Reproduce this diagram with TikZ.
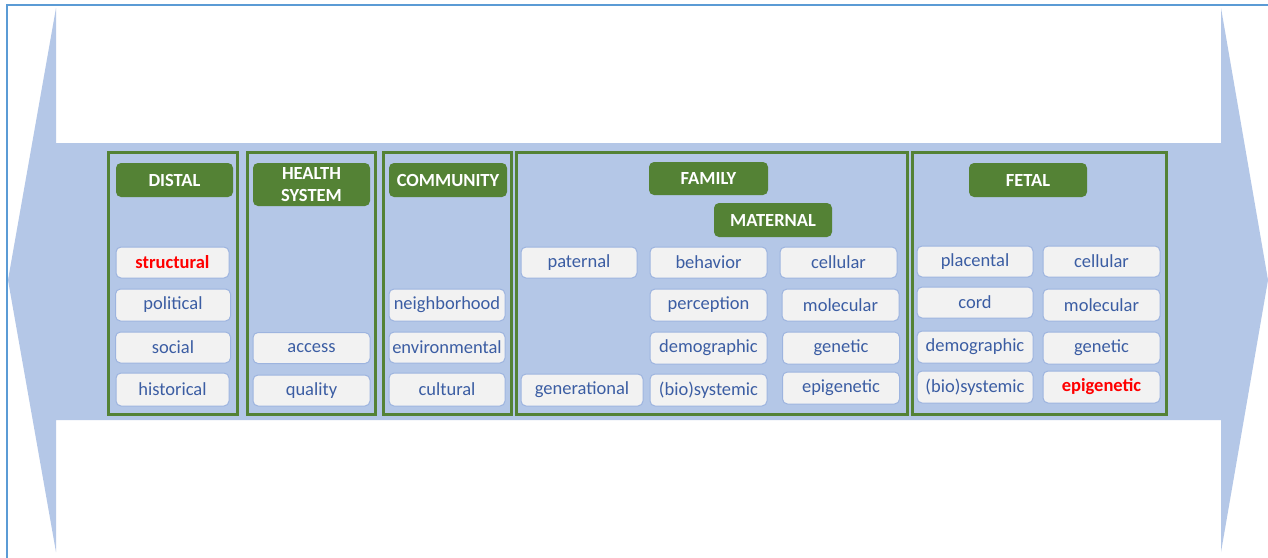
\documentclass[tikz,border=0pt]{standalone}
\usepackage{fontspec}
\setmainfont{Carlito}
\definecolor{frameblue}{HTML}{5B9BD5}
\definecolor{arrowblue}{HTML}{B4C7E7}
\definecolor{panelgreen}{HTML}{548235}
\definecolor{itemfill}{HTML}{F2F2F2}
\definecolor{itemline}{HTML}{9DB4DF}
\definecolor{itemtext}{HTML}{3B5DA3}
\definecolor{hot}{HTML}{FF0000}
\tikzset{
  panel/.style={draw=panelgreen, line width=3pt, inner sep=0pt, minimum height=262pt},
  hdr/.style={fill=panelgreen, rounded corners=5pt, inner sep=0pt, text=white,
    font=\fontsize{18.5}{22.5}\selectfont\bfseries, align=center,
    minimum width=118pt, minimum height=34pt},
  item/.style={fill=itemfill, draw=itemline, line width=1pt, rounded corners=5pt, inner sep=0pt,
    text=itemtext, font=\fontsize{18.5}{22}\selectfont, minimum width=117pt, minimum height=31pt},
  hotitem/.style={item, text=hot, font=\fontsize{18.5}{22}\selectfont\bfseries}
}
\begin{document}
\begin{tikzpicture}[x=1pt,y=-1pt]
\useasboundingbox (0,0) rectangle (1268,557);
\clip (0,0) rectangle (1268,557);
\fill[white] (0,0) rectangle (1268,557);
\draw[frameblue, line width=2pt] (7,5) rectangle (1290,580);
% double arrow
\fill[arrowblue] (8,280) -- (56,8) -- (56,143) -- (1221,143) -- (1221,8) -- (1268,280)
  -- (1221,552) -- (1221,420) -- (56,420) -- (56,552) -- cycle;
% panels
\node[panel, minimum width=129pt] (pdistal) at (172.5,283) {};
\node[panel, minimum width=128pt] (phealth) at (311,283) {};
\node[panel, minimum width=128pt] (pcomm) at (447,283) {};
\node[panel, minimum width=391pt] (pfamily) at (711.5,283) {};
\node[panel, minimum width=254pt] (pfetal) at (1039,283) {};
% headers
\node[hdr, minimum width=117pt] (hdistal) at (174.5,180) {DISTAL};
\node[hdr, minimum width=117pt, minimum height=43pt] (hhealth) at (311.5,184.5) {HEALTH\\SYSTEM};
\node[hdr] (hcomm) at (448,180) {COMMUNITY};
\node[hdr, minimum width=119pt, minimum height=33pt] (hfamily) at (708.5,178.5) {FAMILY};
\node[hdr] (hmaternal) at (773,220) {MATERNAL};
\node[hdr] (hfetal) at (1028,180) {FETAL};
% distal
\node[hotitem, minimum width=113pt] (structural) at (172.5,262.5) {structural};
\node[item, minimum width=115pt, minimum height=32pt] (political) at (173,305) {political};
\node[item, minimum width=115pt] (social) at (173,347.5) {social};
\node[item, minimum width=113pt, minimum height=33pt] (historical) at (172.5,389.5) {historical};
% health system
\node[item] (access) at (311.5,348) {access};
\node[item] (quality) at (311.5,390.5) {quality};
% community
\node[item, minimum width=116pt, minimum height=32pt] (neigh) at (447,305) {neighborhood};
\node[item, minimum width=116pt] (environ) at (447,347.5) {environmental};
\node[item, minimum width=116pt, minimum height=33pt] (cultural) at (447,389.5) {cultural};
% family
\node[item, minimum width=116pt] (paternal) at (579,262.5) {paternal};
\node[item, minimum width=122pt, minimum height=32pt] (generational) at (582,390) {generational};
\node[item] (behavior) at (708.5,262.5) {behavior};
\node[item, minimum height=32pt] (perception) at (708.5,305) {perception};
\node[item, minimum height=32pt] (mdemog) at (708.5,348) {demographic};
\node[item, minimum height=32pt] (mbio) at (708.5,390) {(bio)systemic};
\node[item] (mcell) at (838.5,262.5) {cellular};
\node[item, minimum height=32pt] (mmol) at (840.5,305) {molecular};
\node[item, minimum height=32pt] (mgen) at (841,348) {genetic};
\node[item, minimum height=32pt] (mepi) at (841,388) {epigenetic};
% fetal
\node[item, minimum width=116pt] (placental) at (975,261.5) {placental};
\node[item, minimum width=116pt] (cord) at (975,302.5) {cord};
\node[item, minimum width=116pt, minimum height=32pt] (fdemog) at (975,347) {demographic};
\node[item, minimum width=116pt, minimum height=32pt] (fbio) at (975,387) {(bio)systemic};
\node[item] (fcell) at (1101.5,261.5) {cellular};
\node[item, minimum height=32pt] (fmol) at (1101.5,305) {molecular};
\node[item, minimum height=32pt] (fgen) at (1101.5,348) {genetic};
\node[hotitem, minimum height=32pt] (fepi) at (1101.5,387) {epigenetic};
\end{tikzpicture}
\end{document}
